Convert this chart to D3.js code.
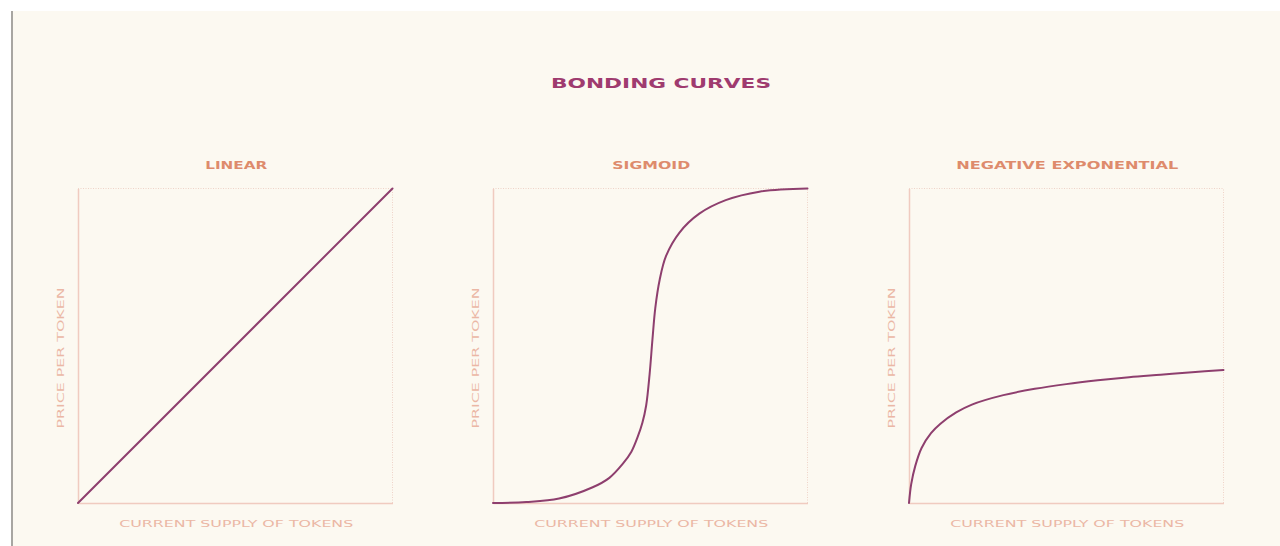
<!DOCTYPE html>
<html>
<head>
<meta charset="utf-8">
<script src="https://cdn.jsdelivr.net/npm/d3@7"></script>
<style>
html,body{margin:0;padding:0;background:#ffffff;}
svg{display:block;}
</style>
</head>
<body>
<svg id="chart" width="1280" height="546"></svg>
<script>
// ---- data ----
const chartTitle = "BONDING CURVES";
const panelTitles = ["LINEAR", "SIGMOID", "NEGATIVE EXPONENTIAL"];
const xAxisLabel = "CURRENT SUPPLY OF TOKENS";
const yAxisLabel = "PRICE PER TOKEN";

const linearX = [0, 1];
const linearY = [0, 1];

const sigmoidX = [0, 0.106, 0.21, 0.317, 0.37, 0.413, 0.44, 0.46, 0.475, 0.487, 0.498, 0.507, 0.516, 0.53, 0.55, 0.593, 0.656, 0.74, 0.847, 1.0];
const sigmoidY = [0, 0.003, 0.014, 0.05, 0.08, 0.125, 0.163, 0.21, 0.255, 0.31, 0.41, 0.52, 0.62, 0.71, 0.785, 0.86, 0.92, 0.963, 0.99, 1.0];

const negExpX = [0, 0.007, 0.02, 0.04, 0.07, 0.1, 0.15, 0.2, 0.3, 0.4, 0.5, 0.6, 0.7, 0.8, 0.9, 1.0];
const negExpY = [0, 0.06, 0.118, 0.175, 0.222, 0.252, 0.288, 0.313, 0.343, 0.363, 0.378, 0.39, 0.4, 0.408, 0.416, 0.423];

const seriesX = [linearX, sigmoidX, negExpX];
const seriesY = [linearY, sigmoidY, negExpY];

// ---- drawing ----
const svg = d3.select("#chart");
const W = 1280, H = 546;

// page background & frame
svg.append("rect").attr("x", 0).attr("y", 0).attr("width", W).attr("height", H).attr("fill", "#ffffff");
svg.append("rect").attr("x", 13).attr("y", 11).attr("width", W - 13).attr("height", H - 11).attr("fill", "#fcf9f1");
svg.append("rect").attr("x", 11).attr("y", 11).attr("width", 2).attr("height", H - 11).attr("fill", "#a8a6a2");

const font = "'DejaVu Sans', 'Liberation Sans', sans-serif";

svg.append("text")
  .attr("x", 661).attr("y", 88)
  .attr("text-anchor", "middle")
  .attr("font-family", font).attr("font-weight", "bold").attr("font-size", 13.5)
  .attr("fill", "#9f3b6f")
  .attr("textLength", 220).attr("lengthAdjust", "spacingAndGlyphs")
  .text(chartTitle);

const panelLeft = [78, 493, 909];
const panelTop = 188.5;
const panelSize = 314.5;
const titleWidths = [62, 78, 222];

panelLeft.forEach((left, i) => {
  const x = d3.scaleLinear().domain([0, 1]).range([left, left + panelSize]);
  const y = d3.scaleLinear().domain([0, 1]).range([panelTop + panelSize, panelTop]);
  const g = svg.append("g");

  // dotted top & right frame
  g.append("line")
    .attr("x1", x(0)).attr("x2", x(1)).attr("y1", y(1)).attr("y2", y(1))
    .attr("stroke", "#efd3c8").attr("stroke-width", 1).attr("stroke-dasharray", "1,1.5");
  g.append("line")
    .attr("x1", x(1)).attr("x2", x(1)).attr("y1", y(0)).attr("y2", y(1))
    .attr("stroke", "#efd3c8").attr("stroke-width", 1).attr("stroke-dasharray", "1,1.5");

  // axes (domain lines only)
  const ax = g.append("g").attr("transform", `translate(0,${y(0)})`)
    .call(d3.axisBottom(x).tickValues([]).tickSizeOuter(0));
  const ay = g.append("g").attr("transform", `translate(${x(0)},0)`)
    .call(d3.axisLeft(y).tickValues([]).tickSizeOuter(0));
  [ax, ay].forEach(a => a.select(".domain").attr("stroke", "#f0cbc0").attr("stroke-width", 1.5));

  // panel title
  g.append("text")
    .attr("x", (x(0) + x(1)) / 2 + 1).attr("y", 169)
    .attr("text-anchor", "middle")
    .attr("font-family", font).attr("font-weight", "bold").attr("font-size", 10)
    .attr("fill", "#de8b6c")
    .attr("textLength", titleWidths[i]).attr("lengthAdjust", "spacingAndGlyphs")
    .text(panelTitles[i]);

  // x label
  g.append("text")
    .attr("x", (x(0) + x(1)) / 2 + 1).attr("y", 527)
    .attr("text-anchor", "middle")
    .attr("font-family", font).attr("font-size", 9.5)
    .attr("fill", "#ebb7a5")
    .attr("textLength", 234).attr("lengthAdjust", "spacingAndGlyphs")
    .text(xAxisLabel);

  // y label
  g.append("text")
    .attr("transform", `translate(${x(0) - 14},358) rotate(-90)`)
    .attr("text-anchor", "middle")
    .attr("font-family", font).attr("font-size", 9.5)
    .attr("fill", "#ebb7a5")
    .attr("textLength", 141).attr("lengthAdjust", "spacingAndGlyphs")
    .text(yAxisLabel);

  // curve
  const pts = seriesX[i].map((v, k) => [v, seriesY[i][k]]);
  const line = d3.line().x(d => x(d[0])).y(d => y(d[1])).curve(d3.curveCatmullRom.alpha(0.5));
  g.append("path")
    .datum(pts)
    .attr("d", line)
    .attr("fill", "none")
    .attr("stroke", "#8e3f6e")
    .attr("stroke-width", 2)
    .attr("stroke-linecap", "round");
});
</script>
</body>
</html>
